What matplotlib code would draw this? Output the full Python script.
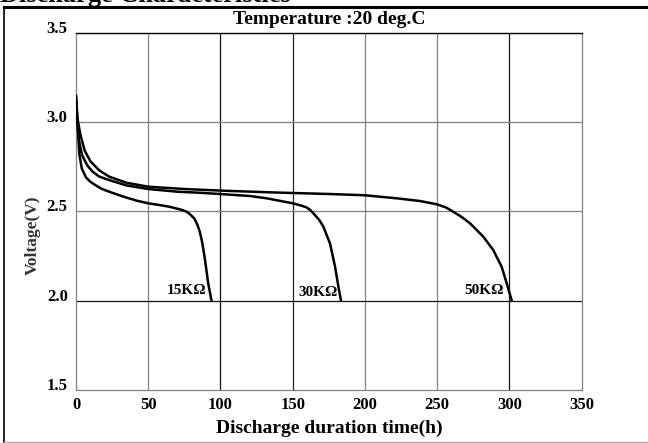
import matplotlib
matplotlib.use("Agg")
import matplotlib.pyplot as plt
from matplotlib.lines import Line2D

plt.rcParams['font.family'] = ['Liberation Serif', 'DejaVu Serif']
plt.rcParams['font.weight'] = 'bold'

# discharge curves (hours, volts)
t_15k = [0, 1, 2.3, 4, 6.9, 10, 13.8, 18, 23, 30, 34.6, 42, 50, 58, 64.6, 70,
         73.8, 76.6, 79, 81.9, 84, 85.5, 87, 88.3, 89.3, 91.5, 93.8]
v_15k = [3.15, 3.0, 2.82, 2.74, 2.69, 2.665, 2.645, 2.625, 2.61, 2.59, 2.578,
         2.56, 2.545, 2.535, 2.526, 2.515, 2.507, 2.498, 2.483, 2.46, 2.425,
         2.39, 2.34, 2.28, 2.227, 2.097, 2.0]

t_30k = [0, 1, 2, 4, 5.7, 8, 11.5, 16, 23, 35, 50, 70, 85.8, 100, 120.4, 132,
         150, 156, 159.6, 162.5, 165.4, 168.5, 171.2, 175.8, 179.3, 181.6,
         183.4]
v_30k = [3.12, 3.0, 2.9, 2.82, 2.79, 2.755, 2.722, 2.695, 2.675, 2.645, 2.625,
         2.61, 2.604, 2.597, 2.586, 2.573, 2.545, 2.532, 2.522, 2.505, 2.479,
         2.45, 2.414, 2.32, 2.19, 2.078, 2.0]

t_50k = [0, 1, 3, 6, 10, 16, 23, 35, 50, 75, 103.8, 140, 175.8, 200, 221.9,
         238, 250, 256, 261.1, 267, 272.7, 281.9, 288.8, 294.6, 298.1, 301.6]
v_50k = [3.14, 3.02, 2.93, 2.84, 2.78, 2.73, 2.694, 2.66, 2.638, 2.625, 2.615,
         2.605, 2.597, 2.59, 2.573, 2.558, 2.539, 2.522, 2.498, 2.468, 2.433,
         2.358, 2.283, 2.19, 2.097, 2.0]

curve_labels = ['15KΩ', '30KΩ', '50KΩ']
label_x = [76.6, 167.7, 282.6]
label_y = [2.055, 2.047, 2.055]

x_ticks = [0, 50, 100, 150, 200, 250, 300, 350]
y_ticks = [1.5, 2.0, 2.5, 3.0, 3.5]

# grid line colours as they appear (some black, some grey)
vgrid_x = [50, 100, 150, 200, 250, 300]
vgrid_c = ['#808080', '#111111', '#222222', '#808080', '#808080', '#111111']
hgrid_y = [2.0, 2.5, 3.0]
hgrid_c = ['#111111', '#808080', '#808080']

fig = plt.figure(figsize=(6.48, 4.43), dpi=100)
ax = fig.add_axes([0.1173, 0.1196, 0.7804, 0.8066])

for x, c in zip(vgrid_x, vgrid_c):
    ax.axvline(x, color=c, lw=0.9, zorder=1)
for y, c in zip(hgrid_y, hgrid_c):
    ax.axhline(y, color=c, lw=0.9, zorder=1)

for t, v in [(t_15k, v_15k), (t_30k, v_30k), (t_50k, v_50k)]:
    ax.plot(t, v, color='black', lw=1.8, solid_joinstyle='round',
            solid_capstyle='round', zorder=3)

for lab, lx, ly in zip(curve_labels, label_x, label_y):
    ax.text(lx, ly, lab, ha='center', va='center', fontsize=11,
            fontweight='bold', zorder=4)

ax.set_xlim(0, 350)
ax.set_ylim(1.5, 3.5)
ax.set_xticks(x_ticks)
ax.set_yticks(y_ticks)
ax.set_yticklabels([f'{y:.1f}' for y in y_ticks])
ax.tick_params(length=0, labelsize=12)
ax.tick_params(axis='x', pad=5)
ax.tick_params(axis='y', pad=6)
plt.setp(ax.get_yticklabels(), va='baseline')

for side in ['left', 'bottom', 'right']:
    ax.spines[side].set_color('#808080')
    ax.spines[side].set_linewidth(0.9)
ax.spines['top'].set_color('black')
ax.spines['top'].set_linewidth(1.0)

ax.set_title('Temperature :20 deg.C', fontsize=14, fontweight='bold', pad=6.5)
ax.set_xlabel('Discharge duration time(h)', fontsize=14, fontweight='bold',
              labelpad=5)
fig.text(33 / 648, 1 - 235 / 443, 'Voltage(V)', rotation=90, ha='center',
         va='center', fontsize=12.5, fontweight='bold', color='#333333')

# outer page frame and the heading that is cut off at the top
fig.add_artist(Line2D([4 / 648, 1], [1 - 7 / 443, 1 - 7 / 443], color='black',
                      lw=2.2, transform=fig.transFigure))
fig.add_artist(Line2D([4 / 648, 4 / 648], [1 - 7 / 443, 1 / 443], color='black',
                      lw=1.2, transform=fig.transFigure))
fig.add_artist(Line2D([4 / 648, 1], [1.5 / 443, 1.5 / 443], color='#aaaaaa',
                      lw=1.0, transform=fig.transFigure))
fig.text(0.0, 1 - 2 / 443, 'Discharge Characteristics', ha='left',
         va='baseline', fontsize=19, fontweight='bold')

fig.savefig('out.png', dpi=100)
